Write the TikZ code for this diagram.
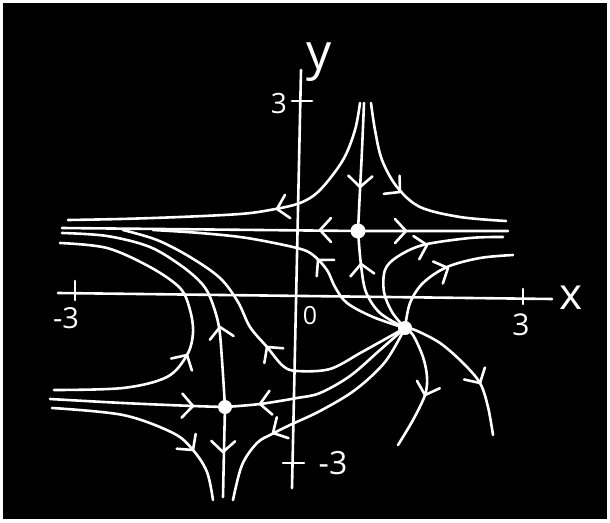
\documentclass[tikz,border=0pt]{standalone}
\usepackage{fontspec}
\newfontfamily\handfont{Open Sans}
\begin{document}
\begin{tikzpicture}[x=1pt,y=-1pt,
  ln/.style={white,line width=2.6pt,line cap=round,line join=round},
  chev/.pic={\draw[ln] (-11,-12) -- (0,0) -- (-11,12);},
  lbl/.style={text=white,inner sep=0pt},
  dot/.style={circle,fill=white,inner sep=0pt,minimum size=#1}]
\useasboundingbox (0,0) rectangle (610,522);
\fill[white] (0,0) rectangle (610,522);
\fill[black] (3,3) rectangle (607,519);
% fixed points
\coordinate (S1) at (358,231);
\coordinate (S2) at (225,407);
\coordinate (N) at (405,328);
% axes
\coordinate (xl) at (58,293);
\coordinate (xr) at (552,299);
\coordinate (yt) at (301,70);
\coordinate (yb) at (292,488);
\draw[ln] (xl) -- (xr);
\draw[ln] (yt) -- (yb);
\draw[ln] (75,281) -- (75,300);
\draw[ln] (523,289) -- (523,304);
\draw[ln] (292,101) -- (312,101);
\draw[ln] (283,463) -- (304,463);
% labels
\node[lbl,font=\handfont\fontsize{50}{50}\selectfont] (ylab) at (319,62) {y};
\node[lbl,font=\handfont\fontsize{44}{44}\selectfont] (xlab) at (571,298) {x};
\node[lbl,font=\handfont\fontsize{28}{28}\selectfont] (t3) at (279,103) {3};
\node[lbl,font=\handfont\fontsize{29}{29}\selectfont] (tm3l) at (66,318) {-3};
\node[lbl,font=\handfont\fontsize{30}{30}\selectfont] (t3r) at (521,325) {3};
\node[lbl,font=\handfont\fontsize{25}{25}\selectfont] (t0) at (310,316) {0};
\node[lbl,font=\handfont\fontsize{32}{32}\selectfont] (tm3b) at (333,463) {-3};
% upper saddle
\draw[ln] plot[smooth,tension=0.55] coordinates {(360,103) (355,130) (343,160) (320,190) (300,203) (270,210) (240,214) (180,217) (120,219) (68,220)};
\draw[ln] plot[smooth,tension=0.55] coordinates {(364,103) (362,150) (360,190) (S1)};
\draw[ln] plot[smooth,tension=0.55] coordinates {(371,103) (375,130) (382,160) (397,187) (420,207) (460,217) (506,221)};
\draw[ln] (62,228) -- (S1) -- (508,231);
% from the source
\draw[ln] plot[smooth,tension=0.55] coordinates {(N) (392,312) (384,292) (385,270) (397,257) (423,245) (470,238) (503,237)};
\draw[ln] plot[smooth,tension=0.55] coordinates {(N) (380,313) (366,292) (361,265) (S1)};
\draw[ln] plot[smooth,tension=0.55] coordinates {(N) (410,303) (423,283) (447,267) (480,258) (513,255)};
\draw[ln] plot[smooth,tension=0.55] coordinates {(N) (373,317) (347,303) (335,287) (327,270) (313,255) (297,248) (247,238) (200,233) (153,230)};
\draw[ln] plot[smooth,tension=0.55] coordinates {(N) (362,352) (330,369) (297,371) (283,366) (267,347) (250,327) (238,302) (220,278) (190,257) (157,240) (123,230)};
\draw[ln] plot[smooth,tension=0.55] coordinates {(N) (413,335) (423,357) (427,377) (425,395) (413,420) (398,445)};
\draw[ln] plot[smooth,tension=0.55] coordinates {(N) (415,330) (440,343) (463,363) (480,383) (488,407) (493,435)};
\draw[ln] plot[smooth,tension=0.55] coordinates {(N) (380,350) (350,376) (320,393) (297,398) (260,404) (S2)};
\draw[ln] plot[smooth,tension=0.55] coordinates {(N) (385,362) (355,390) (320,411) (290,425) (272,434) (257,443) (242,465) (233,500)};
% lower saddle
\draw[ln] plot[smooth,tension=0.55] coordinates {(50,399) (123,403) (193,406) (S2)};
\draw[ln] plot[smooth,tension=0.55] coordinates {(54,390) (123,388) (167,377) (187,355) (193,333) (190,310) (180,288) (150,267) (107,248) (60,243)};
\draw[ln] plot[smooth,tension=0.55] coordinates {(S2) (222,360) (219,327) (212,302) (203,285) (183,267) (150,247) (107,236) (62,233)};
\draw[ln] plot[smooth,tension=0.55] coordinates {(S2) (224,450) (223,497)};
\draw[ln] plot[smooth,tension=0.55] coordinates {(52,408) (123,415) (173,433) (193,450) (207,472) (213,500)};
% arrowheads
\pic[rotate=193] at (277,209) {chev};
\pic[rotate=-92] at (360,187) {chev};
\pic[rotate=-41] at (400,192) {chev};
\pic[rotate=180] at (320,230) {chev};
\pic[rotate=0] at (406,231) {chev};
\pic[rotate=14] at (427,245) {chev};
\pic[rotate=97] at (361,264) {chev};
\pic[rotate=24] at (448,268) {chev};
\pic[rotate=133] at (318,260) {chev};
\pic[rotate=128] at (267,347) {chev};
\pic[rotate=-108] at (425,395) {chev};
\pic[rotate=-60] at (480,383) {chev};
\pic[rotate=187] at (260,404) {chev};
\pic[rotate=209] at (273,433) {chev};
\pic[rotate=-2] at (193,406) {chev};
\pic[rotate=60] at (187,355) {chev};
\pic[rotate=99] at (220,327) {chev};
\pic[rotate=-91] at (223,452) {chev};
\pic[rotate=-52] at (193,450) {chev};
% dots
\node[dot=15pt] (s1) at (S1) {};
\node[dot=14pt] (s2) at (S2) {};
\node[dot=14pt] (n) at (N) {};
\end{tikzpicture}
\end{document}
